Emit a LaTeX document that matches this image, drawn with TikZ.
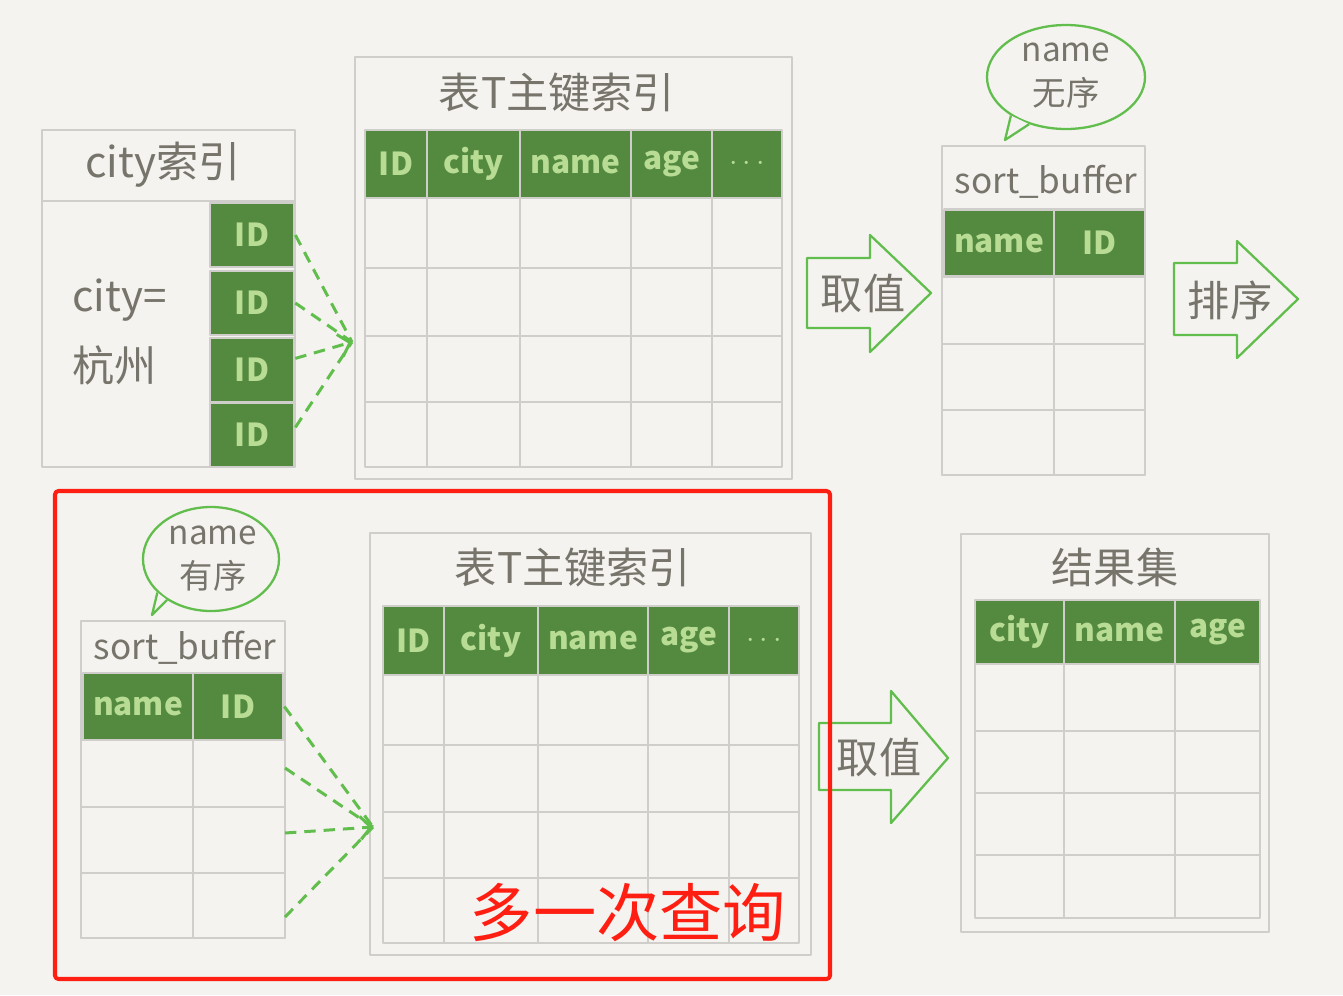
\documentclass[tikz,border=0pt]{standalone}
\usepackage{fontspec}
\setmainfont{Noto Sans CJK SC}
\usetikzlibrary{arrows.meta,shapes.geometric}

\definecolor{paper}{HTML}{F4F3EF}
\definecolor{gridgray}{HTML}{CFCECA}
\definecolor{hdrgreen}{HTML}{538A3F}
\definecolor{hdrtext}{HTML}{B8DC94}
\definecolor{inkgray}{HTML}{77746B}
\definecolor{linegreen}{HTML}{62BE4C}
\definecolor{markred}{HTML}{FF1E12}

\def\px{0.02cm}

\begin{document}
\begin{tikzpicture}[x=\px, y=-\px, line join=round]
      \tikzstyle{box frame}=[draw=gridgray, line width=1.6pt]
      \tikzstyle{cell}=[draw=gridgray, line width=1.5pt]
      \tikzstyle{head cell}=[cell, fill=hdrgreen, text=hdrtext, inner sep=0pt, font=\fontsize{18}{20}\selectfont\bfseries]
      \tikzstyle{ink text}=[text=inkgray, inner sep=0pt, font=\fontsize{24}{26}\selectfont]
      \tikzstyle{buffer text}=[ink text, font=\fontsize{20}{22}\selectfont]
      \tikzstyle{bubble}=[ellipse, draw=linegreen, line width=1.3pt, fill=paper, inner sep=0pt]
      \tikzstyle{bubble text}=[ink text, align=center, font=\fontsize{19}{25}\selectfont]
      \tikzstyle{tail}=[draw=linegreen, line width=1.3pt, fill=paper]
      \tikzstyle{fat arrow}=[draw=linegreen, line width=1.3pt]
      \tikzstyle{lookup}=[draw=linegreen, line width=1.7pt, dash pattern=on 6.5pt off 4.5pt]
      \tikzstyle{lookup tip}=[lookup, -{Straight Barb[length=6pt, width=13pt]}]

      % Paper
      \path[use as bounding box, fill=paper] (0,0) rectangle (1343,995);

      % Draw the city index
      \draw[box frame] (42,130) rectangle (295,467);
      \draw[box frame] (42,201) -- (295,201);
      \node[ink text] (cityidx) at (163,165) {city索引};
      \node[ink text, anchor=west] (cond1) at (72,300) {city=};
      \node[ink text, anchor=west] (cond2) at (72,365) {杭州};
      \foreach \y [count=\i] in {235,303,370,435}
          \node[head cell, minimum width=84*\px, minimum height=64*\px] (id\i) at (252,\y) {ID};

      % Draw the primary index of table T (top)
      \draw[box frame] (355,57) rectangle (792,479);
      \node[ink text] (pk1) at (557,93) {表T主键索引};
      \foreach \xa/\xb/\col [count=\i] in {365/427/ID, 427/520/city, 520/631/name, 631/712/age, 712/782/$\cdots$}
          \node[head cell, minimum width={(\xb-\xa)*\px}, minimum height=68*\px] (pk1-h\i) at ({(\xa+\xb)/2},164) {\col};
      \foreach \xa/\xb in {365/427, 427/520, 520/631, 631/712, 712/782}
          \foreach \ya/\yb in {198/268, 268/336, 336/402, 402/467}
              \draw[cell] (\xa,\ya) rectangle (\xb,\yb);

      % Look up every ID in the primary index
      \coordinate (hit1) at (352,342);
      \draw[lookup] (id1.east) -- (hit1);
      \draw[lookup] (id2.east) -- (hit1);
      \draw[lookup tip] (id3.15) -- (hit1);
      \draw[lookup] (id4.10) -- (hit1);

      % Fetch into sort_buffer
      \draw[fat arrow] (807,258) -- (870,258) -- (870,235) -- (931,293) -- (870,352) -- (870,328) -- (807,328) -- cycle;
      \node[ink text] (fetch1) at (863,293) {取值};

      % Draw sort_buffer (top)
      \draw[box frame] (942,146) rectangle (1145,475);
      \node[buffer text] (sb1) at (1046,182) {sort\_buffer};
      \node[head cell, minimum width=110*\px, minimum height=67*\px] (sb1-name) at (999,243) {name};
      \node[head cell, minimum width=91*\px, minimum height=67*\px] (sb1-id) at (1099.5,243) {ID};
      \foreach \xa/\xb in {942/1054, 1054/1145}
          \foreach \ya/\yb in {277/344, 344/410, 410/475}
              \draw[cell] (\xa,\ya) rectangle (\xb,\yb);

      % Bubble: name unsorted
      \node[bubble, minimum width=158*\px, minimum height=104*\px] (unsorted) at (1066,77) {};
      \coordinate (tip1) at (1005,140);
      \filldraw[tail] (unsorted.215) -- (tip1) -- (unsorted.232);
      \node[bubble text] (unsorted-txt) at (1066,76) {name\\无序};

      % Sort
      \draw[fat arrow] (1174,263) -- (1237,263) -- (1237,241) -- (1298,299) -- (1237,358) -- (1237,335) -- (1174,335) -- cycle;
      \node[ink text] (sort) at (1230,300) {排序};

      % Draw sort_buffer (bottom)
      \draw[box frame] (81,621) rectangle (285,938);
      \node[buffer text] (sb2) at (185,648) {sort\_buffer};
      \node[head cell, minimum width=110*\px, minimum height=67*\px] (sb2-name) at (138,706.5) {name};
      \node[head cell, minimum width=90*\px, minimum height=67*\px] (sb2-id) at (238,706.5) {ID};
      \foreach \xa/\xb in {81/193, 193/285}
          \foreach \ya/\yb in {740/807, 807/873, 873/938}
              \draw[cell] (\xa,\ya) rectangle (\xb,\yb);

      % Bubble: name sorted
      \node[bubble, minimum width=136*\px, minimum height=104*\px] (sorted) at (211,559) {};
      \coordinate (tip2) at (152,615);
      \filldraw[tail] (sorted.212) -- (tip2) -- (sorted.223);
      \node[bubble text] (sorted-txt) at (213,559) {name\\有序};

      % Draw the primary index of table T (bottom)
      \draw[box frame] (370,533) rectangle (811,955);
      \node[ink text] (pk2) at (573,568) {表T主键索引};
      \foreach \xa/\xb/\col [count=\i] in {383/444/ID, 444/538/city, 538/648/name, 648/729/age, 729/799/$\cdots$}
          \node[head cell, minimum width={(\xb-\xa)*\px}, minimum height=69*\px] (pk2-h\i) at ({(\xa+\xb)/2},640.5) {\col};
      \foreach \xa/\xb in {383/444, 444/538, 538/648, 648/729, 729/799}
          \foreach \ya/\yb in {675/745, 745/812, 812/878, 878/943}
              \draw[cell] (\xa,\ya) rectangle (\xb,\yb);

      % Look up again, one row after the other
      \coordinate (row1) at (285,768);
      \coordinate (row2) at (285,833);
      \coordinate (row3) at (285,917);
      \coordinate (hit2) at (373,827);
      \draw[lookup] (sb2-id.east) -- (hit2);
      \draw[lookup] (row1) -- (hit2);
      \draw[lookup tip] (row2) -- (hit2);
      \draw[lookup] (row3) -- (hit2);

      % Fetch into the result set
      \draw[fat arrow] (819,723) -- (891,723) -- (891,691) -- (948,758) -- (891,823) -- (891,790) -- (819,790) -- cycle;
      \node[ink text] (fetch2) at (879,757) {取值};

      % Draw the result set
      \draw[box frame] (961,534) rectangle (1269,932);
      \node[ink text] (result) at (1115,567) {结果集};
      \foreach \xa/\xb/\col [count=\i] in {975/1064/city, 1064/1175/name, 1175/1260/age}
          \node[head cell, minimum width={(\xb-\xa)*\px}, minimum height=64*\px] (res-h\i) at ({(\xa+\xb)/2},632) {\col};
      \foreach \xa/\xb in {975/1064, 1064/1175, 1175/1260}
          \foreach \ya/\yb in {664/731, 731/793, 793/855, 855/918}
              \draw[cell] (\xa,\ya) rectangle (\xb,\yb);

      % Mark the extra lookup
      \draw[markred, line width=2.3pt, rounded corners=2pt] (55,491) rectangle (830,979);
      \node[text=markred, inner sep=0pt, font=\fontsize{36}{40}\selectfont] (extra) at (628,913) {多一次查询};
\end{tikzpicture}
\end{document}
